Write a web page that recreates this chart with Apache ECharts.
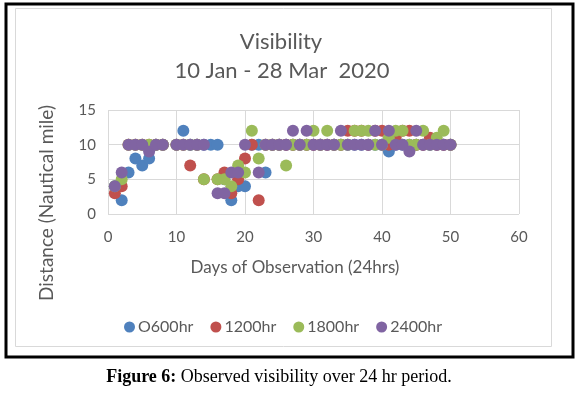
<!DOCTYPE html>
<html><head><meta charset="utf-8">
<script src="https://cdn.jsdelivr.net/npm/echarts@6/dist/echarts.min.js"></script>
<style>html,body{margin:0;padding:0;background:#fff}#c{width:580px;height:398px}</style>
</head><body><div id="c"></div>
<script>
const days = [1,2,3,4,5,6,7,8,9,10,11,12,13,14,15,16,17,18,19,20,21,22,23,24,25,26,27,28,29,30,31,32,33,34,35,36,37,38,39,40,41,42,43,44,45,46,47,48,49,50];
const s0600 = [4,2,6,8,7,8,10,10,null,10,12,10,10,10,10,10,5,2,4,4,10,10,6,10,10,10,10,10,10,10,10,10,10,10,10,10,10,10,10,10,9,10,10,10,10,10,10,10,10,10];
const s1200 = [3,4,10,10,10,10,10,10,null,10,10,7,10,5,null,5,6,3,5,8,10,2,10,10,10,10,10,10,10,10,10,10,10,10,12,12,12,10,12,12,10,11,12,12,10,10,11,10,10,10];
const s1800 = [4,5,10,10,10,10,10,10,null,10,10,10,10,5,null,5,5,4,7,6,12,8,10,10,10,7,10,10,10,12,10,12,10,10,10,12,12,12,10,10,11,12,12,10,10,12,10,11,12,10];
const s2400 = [4,6,10,10,10,9,10,10,null,10,10,10,10,10,null,3,3,6,6,10,null,6,10,10,10,10,12,10,12,10,10,10,10,12,10,10,10,10,12,10,12,10,10,9,12,10,10,10,10,10];
const seriesNames = ['O600hr','1200hr','1800hr','2400hr'];
const xTicks = {min:0,max:60,interval:10};
const yTicks = {min:0,max:15,interval:5};

const colors = ['#4F81BD','#C0504D','#9BBB59','#8064A2'];
const allVals = [s0600,s1200,s1800,s2400];
function pts(v){ const out=[]; days.forEach((d,i)=>{ if(v[i]!==null) out.push([d,v[i]]); }); return out; }

const font = 'Lato, "Open Sans", sans-serif';
const txt = '#595959';
const chart = echarts.init(document.getElementById('c'));
chart.setOption({
  animation:false,
  color:colors,
  grid:{left:108,right:61,top:110,bottom:184},
  xAxis:{type:'value',min:xTicks.min,max:xTicks.max,interval:xTicks.interval,
    axisLine:{show:false},axisTick:{show:false},
    axisLabel:{color:txt,fontSize:15,fontFamily:font,margin:16},
    splitLine:{show:true,lineStyle:{color:'#d9d9d9',width:1}}},
  yAxis:{type:'value',min:yTicks.min,max:yTicks.max,interval:yTicks.interval,
    axisLine:{show:false},axisTick:{show:false},
    axisLabel:{color:txt,fontSize:15,fontFamily:font,margin:12},
    splitLine:{show:true,lineStyle:{color:'#d9d9d9',width:1}}},
  legend:{left:119,top:314,itemGap:17,icon:'circle',itemWidth:11,itemHeight:11,
    textStyle:{color:txt,fontSize:16,fontFamily:font,padding:[0,0,0,-2]},
    data:seriesNames},
  graphic:[
    {type:'rect',shape:{x:6,y:4,width:567,height:353},style:{fill:'none',stroke:'#000',lineWidth:3},silent:true},
    {type:'rect',shape:{x:15.5,y:8.5,width:536,height:338},style:{fill:'none',stroke:'#d9d9d9',lineWidth:1},silent:true},
    {type:'text',x:281,y:42,style:{text:'Visibility',fill:txt,font:'22px '+font,textAlign:'center',textVerticalAlign:'middle'}},
    {type:'text',x:282,y:71,style:{text:'10 Jan - 28 Mar  2020',fill:txt,font:'22px '+font,textAlign:'center',textVerticalAlign:'middle'}},
    {type:'text',x:295,y:268,style:{text:'Days of Observation (24hrs)',fill:txt,font:'17px '+font,textAlign:'center',textVerticalAlign:'middle'}},
    {type:'text',x:47,y:203,rotation:Math.PI/2,style:{text:'Distance (Nautical mile)',fill:txt,font:'19px '+font,textAlign:'center',textVerticalAlign:'middle'}},
    {type:'text',x:279,y:377,style:{text:'{b|Figure 6:} Observed visibility over 24 hr period.',
      rich:{b:{fontWeight:'bold',fontFamily:'"Liberation Serif", serif',fontSize:18,fill:'#000'}},
      fill:'#000',font:'18px "Liberation Serif", serif',textAlign:'center',textVerticalAlign:'middle'}}
  ],
  series: allVals.map((v,i)=>({name:seriesNames[i],type:'scatter',symbol:'circle',symbolSize:12,data:pts(v),itemStyle:{color:colors[i],opacity:1}}))
});
</script></body></html>
